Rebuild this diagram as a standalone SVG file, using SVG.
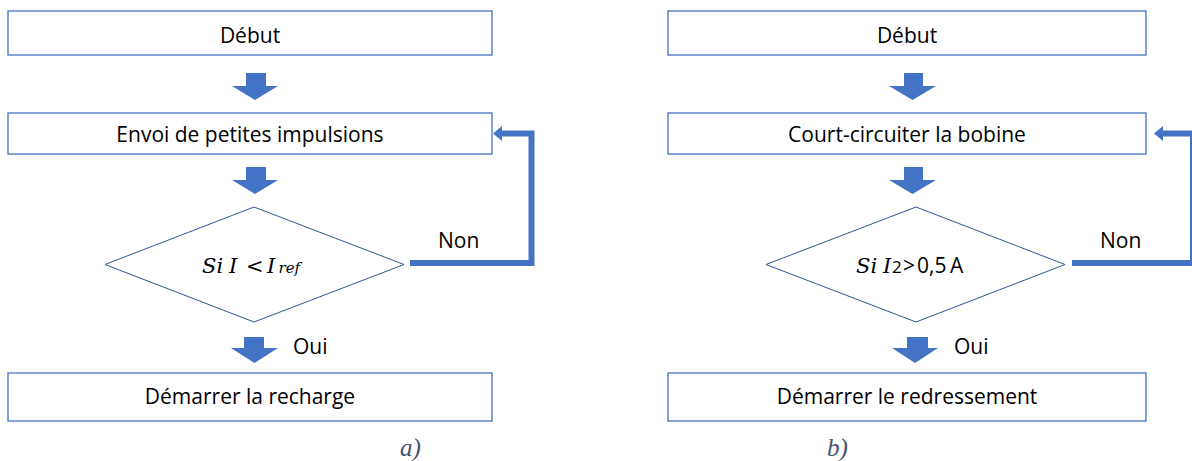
<svg xmlns="http://www.w3.org/2000/svg" width="1192" height="461" viewBox="0 0 1192 461">
<style>
.box{fill:#fff;stroke:#4472C4;stroke-width:1.3}
.dia{fill:#fff;stroke:#2F5597;stroke-width:1}
.t{font-family:"Open Sans","Noto Sans",sans-serif;font-size:21px;fill:#000;text-anchor:middle}
.lbl{font-family:"Open Sans","Noto Sans",sans-serif;font-size:21px;fill:#000}
.m{font-family:"DejaVu Serif","Liberation Serif",serif;font-style:italic;font-size:21px;fill:#000}
.cap{font-family:"Liberation Serif","DejaVu Serif",serif;font-style:italic;font-size:25px;fill:#44546A}
.blk{fill:#4472C4}
.ln{fill:none;stroke:#4472C4;stroke-width:6;stroke-linejoin:miter}
</style>
<rect width="1192" height="461" fill="#fff"/>
<g id="connectors">
<polygon class="blk" points="246,73 266,73 266,86 278,86 255,100 232,86 246,86"/>
<polygon class="blk" points="246,167 266,167 266,180 278,180 255,194 232,180 246,180"/>
<polygon class="blk" points="244,337 264,337 264,348 278,348 254.5,363 231,348 244,348"/>
<polyline class="ln" points="410,263 531.5,263 531.5,133.5 501,133.5"/>
<polygon class="blk" points="493,133.5 502,126 502,141"/>
<polygon class="blk" points="904,73 923,73 923,86 936,86 912.5,100 889,86 904,86"/>
<polygon class="blk" points="904,167 923,167 923,180 936,180 912.5,194 889,180 904,180"/>
<polygon class="blk" points="907,337 928,337 928,348 938,348 915,363 892,348 907,348"/>
<polyline class="ln" points="1072,263 1193,263 1193,133.5 1162,133.5"/>
<polygon class="blk" points="1154,133.5 1163,126 1163,141"/>
</g>
<g id="a-debut"><rect class="box" x="8" y="11" width="484" height="44"/><text class="t" x="250" y="42.5">Début</text></g>
<g id="a-envoi"><rect class="box" x="8" y="113" width="484" height="41"/><text class="t" x="250" y="141.5">Envoi de petites impulsions</text></g>
<g id="a-si"><polygon class="dia" points="105,264.5 254,207 404,264.5 254,322"/>
<text class="m" y="272.5"><tspan x="202">Si</tspan><tspan x="229">I</tspan><tspan x="246" style="font-style:normal">&lt;</tspan><tspan x="267">I</tspan><tspan x="278.5" style="font-size:15px">ref</tspan></text></g>
<g id="a-non"><text class="lbl" x="438" y="248">Non</text></g>
<g id="a-oui"><text class="lbl" x="293" y="354">Oui</text></g>
<g id="a-dem"><rect class="box" x="8" y="373" width="484" height="48"/><text class="t" x="250" y="404">Démarrer la recharge</text></g>
<g id="a-cap"><text class="cap" x="400" y="455.5">a)</text></g>
<g id="b-debut"><rect class="box" x="668" y="11" width="478" height="44"/><text class="t" x="907" y="42.5">Début</text></g>
<g id="b-court"><rect class="box" x="668" y="113" width="478" height="41"/><text class="t" x="907" y="141.5">Court-circuiter la bobine</text></g>
<g id="b-si"><polygon class="dia" points="766,264.5 916,207 1065,264.5 916,322"/>
<text class="m" y="272.5"><tspan x="856">Si</tspan><tspan x="883">I</tspan><tspan x="892" style="font-family:'Open Sans',sans-serif;font-style:normal;font-size:17px">2</tspan><tspan x="903" style="font-family:'Open Sans',sans-serif;font-style:normal;font-size:21px">&gt;</tspan><tspan x="917" style="font-family:'Open Sans',sans-serif;font-style:normal;font-size:21px">0,5</tspan><tspan x="950" style="font-family:'Open Sans',sans-serif;font-style:normal;font-size:21px">A</tspan></text></g>
<g id="b-non"><text class="lbl" x="1100" y="248">Non</text></g>
<g id="b-oui"><text class="lbl" x="954" y="354">Oui</text></g>
<g id="b-dem"><rect class="box" x="668" y="373" width="478" height="48"/><text class="t" x="907" y="404">Démarrer le redressement</text></g>
<g id="b-cap"><text class="cap" x="827" y="455.5">b)</text></g>
</svg>
